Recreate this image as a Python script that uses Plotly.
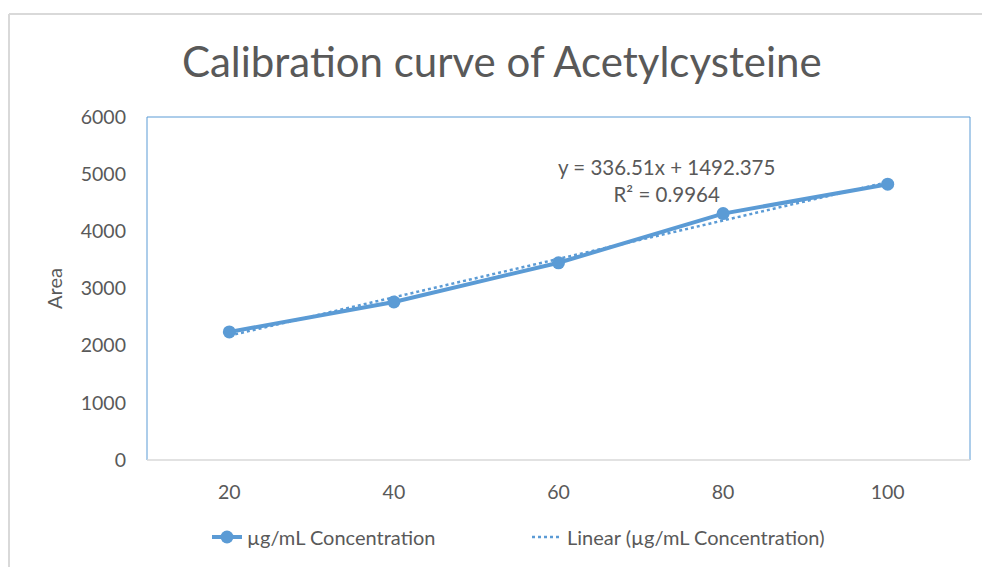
import numpy as np
import plotly.graph_objects as go

categories = ["20", "40", "60", "80", "100"]
area_values = [2240, 2765, 3450, 4310, 4825]
y_ticks = [0, 1000, 2000, 3000, 4000, 5000, 6000]
equation_text = "y = 336.51x + 1492.375<br>R² = 0.9964"

idx = np.arange(1, len(area_values) + 1)
slope, intercept = np.polyfit(idx, area_values, 1)
trend = slope * idx + intercept

BLUE = "#5B9BD5"
GREY = "#595959"
FONT = "Lato"

L, R, T, B = 147, 12, 117, 107
PW, PH = 982 - L - R, 567 - T - B


def px(x):
    return (x - L) / PW


def py(y):
    return (567 - B - y) / PH


fig = go.Figure()
fig.add_trace(go.Scatter(
    x=categories, y=trend, mode="lines",
    line=dict(color=BLUE, width=2.5, dash="dot"),
    name="Linear (µg/mL Concentration)", showlegend=False,
))
fig.add_trace(go.Scatter(
    x=categories, y=area_values, mode="lines+markers",
    line=dict(color=BLUE, width=4),
    marker=dict(color=BLUE, size=13),
    name="µg/mL Concentration",
))
fig.add_trace(go.Scatter(
    x=[None], y=[None], mode="lines",
    line=dict(color=BLUE, width=2.5, dash="dot"),
    name="Linear (µg/mL Concentration)",
))

fig.update_layout(
    width=982, height=567,
    margin=dict(l=L, r=R, t=T, b=B, autoexpand=False),
    paper_bgcolor="white", plot_bgcolor="white",
    font=dict(family=FONT, color=GREY, size=18),
    title=dict(text="Calibration curve of Acetylcysteine",
               x=0.511, xanchor="center", y=1 - 62 / 567, yanchor="middle",
               font=dict(family=FONT, size=42, color=GREY)),
    xaxis=dict(type="category", range=[-0.5, 4.5], showgrid=False,
               showline=False, zeroline=False, ticks="", automargin=False,
               tickfont=dict(size=19.5, color=GREY), ticklabelstandoff=18),
    yaxis=dict(range=[0, 6000], tickvals=y_ticks, showgrid=False,
               showline=False, zeroline=False, ticks="", automargin=False,
               tickfont=dict(size=19.5, color=GREY), ticklabelstandoff=20,
               title=dict(text="Area", font=dict(size=20, color=GREY), standoff=12)),
    legend=dict(orientation="h", x=px(207), xanchor="left", y=py(537), yanchor="middle",
                font=dict(size=20, color=GREY), entrywidth=275,
                traceorder="normal"),
    showlegend=True,
)

fig.add_shape(type="line", xref="paper", yref="paper", x0=0, x1=0, y0=0, y1=1,
              line=dict(color=BLUE, width=1))
fig.add_shape(type="line", xref="paper", yref="paper", x0=0, x1=1, y0=1, y1=1,
              line=dict(color=BLUE, width=1))
fig.add_shape(type="line", xref="paper", yref="paper", x0=1, x1=1, y0=0, y1=1,
              line=dict(color=BLUE, width=1))
fig.add_shape(type="line", xref="paper", yref="paper", x0=0, x1=1, y0=0, y1=0,
              line=dict(color="#D9D9D9", width=1.5))

fig.add_shape(type="line", xref="paper", yref="paper",
              x0=px(9), x1=px(990), y0=py(14), y1=py(14),
              line=dict(color="#D9D9D9", width=2))
fig.add_shape(type="line", xref="paper", yref="paper",
              x0=px(9), x1=px(9), y0=py(14), y1=py(575),
              line=dict(color="#D9D9D9", width=2))

fig.add_annotation(text=equation_text, xref="paper", yref="paper",
                   x=px(666), y=py(180), showarrow=False,
                   xanchor="center", yanchor="middle", align="center",
                   font=dict(size=20.5, color=GREY))

fig.write_html("out.html", config={"displayModeBar": False},
               post_script="document.body.style.margin='0';")
